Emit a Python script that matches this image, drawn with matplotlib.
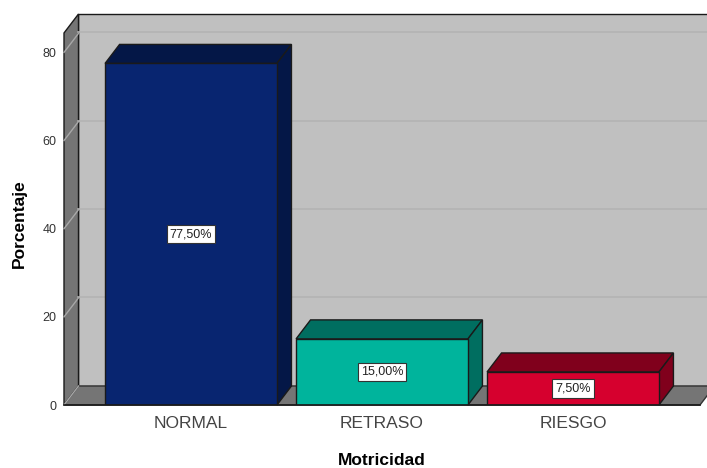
import matplotlib
matplotlib.use("Agg")
import matplotlib.pyplot as plt
from matplotlib.patches import Polygon

plt.rcParams['font.family'] = ['Liberation Sans', 'DejaVu Sans']

categories = ["NORMAL", "RETRASO", "RIESGO"]
values = [77.5, 15.0, 7.5]
labels = ["77,50%", "15,00%", "7,50%"]
front_colors = ["#082570", "#00B49C", "#D6002E"]
side_colors = ["#041747", "#006E60", "#80001C"]
y_ticks = [0, 20, 40, 60, 80]

# depth of the fake 3D box, in data units
dx = 14.5 / 191
dy = 19 / 4.41
grid_dy = 20 / 4.41
bar_width = 0.9
x_min, x_max = -0.665, 2.665
y_max = 84.4
edge = "#1a1a1a"


def poly(ax, pts, color, lw=1.0, ec=edge, z=1):
    ax.add_patch(Polygon(pts, closed=True, facecolor=color, edgecolor=ec,
                         linewidth=lw, zorder=z, clip_on=False))


fig = plt.figure(figsize=(7.07, 4.68), dpi=100)
ax = fig.add_axes([64 / 707, 1 - 405 / 468, (700 - 64) / 707, (405 - 33) / 468])
ax.set_xlim(x_min, x_max)
ax.set_ylim(0, y_max)

# back wall, left wall, floor
poly(ax, [(x_min + dx, dy), (x_max + dx, dy), (x_max + dx, y_max + dy), (x_min + dx, y_max + dy)], "#C0C0C0")
poly(ax, [(x_min, 0), (x_min + dx, dy), (x_min + dx, y_max + dy), (x_min, y_max)], "#757575")
poly(ax, [(x_min, 0), (x_max, 0), (x_max + dx, dy), (x_min + dx, dy)], "#757575", ec="#333333")

for t in y_ticks:
    if t > 0:
        ax.plot([x_min + dx, x_max + dx], [t + grid_dy, t + grid_dy], color="#B3B3B3", lw=1.2, zorder=1.5, clip_on=False)
    ax.plot([x_min, x_min + dx], [t, t + dy], color="#A8A8A8", lw=1.0, zorder=1.5, clip_on=False)

xs = list(range(len(categories)))
ax.bar(xs, values, width=bar_width, color=front_colors, edgecolor=edge, linewidth=1.0, zorder=3)

for x, v, side, lab in zip(xs, values, side_colors, labels):
    l, r = x - bar_width / 2, x + bar_width / 2
    poly(ax, [(l, v), (r, v), (r + dx, v + dy), (l + dx, v + dy)], side, z=2.5)
    poly(ax, [(r, 0), (r + dx, dy), (r + dx, v + dy), (r, v)], side, z=2.5)
    ax.text(x, v / 2, lab, ha="center", va="center", fontsize=9, color="#222222", zorder=5,
            bbox=dict(boxstyle="square,pad=0.25", facecolor="white", edgecolor="#333333", linewidth=0.8))

for s in ["top", "right", "left"]:
    ax.spines[s].set_visible(False)
ax.spines["bottom"].set_color(edge)
ax.spines["bottom"].set_linewidth(1.2)
ax.spines["bottom"].set_zorder(4)

ax.set_xticks(xs)
ax.set_xticklabels(categories, fontsize=12.5, color="#444444")
ax.set_yticks(y_ticks)
ax.tick_params(axis="x", length=0, pad=8)
ax.tick_params(axis="y", length=0, pad=5.5, labelsize=9, labelcolor="#333333")
ax.set_xlabel("Motricidad", fontsize=12.5, fontweight="bold")
ax.xaxis.set_label_coords((382 - 64) / (700 - 64), -(453 - 405) / (405 - 33), transform=ax.transAxes)
ax.set_ylabel("Porcentaje", fontsize=12.5, fontweight="bold")
ax.yaxis.set_label_coords(-(64 - 27) / (700 - 64), (405 - 224) / (405 - 33), transform=ax.transAxes)

fig.savefig("out.png", dpi=100)
